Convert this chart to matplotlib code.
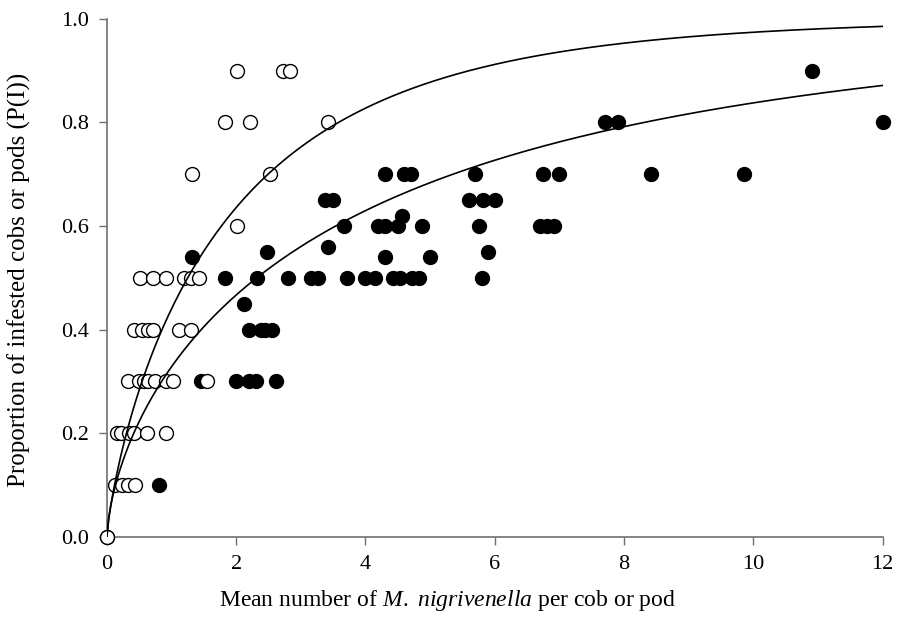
import numpy as np
import matplotlib
matplotlib.use("Agg")
import matplotlib.pyplot as plt

# open circles (one host)
open_x = [0.0,
          0.12, 0.23, 0.33, 0.43,
          0.15, 0.22, 0.35, 0.42, 0.62, 0.92,
          0.33, 0.5, 0.58, 0.64, 0.74, 0.92, 1.02, 1.55,
          0.42, 0.55, 0.63, 0.72, 1.12, 1.3,
          0.52, 0.72, 0.92, 1.2, 1.3, 1.42,
          2.02,
          1.32, 2.52,
          1.82, 2.22, 3.42,
          2.02, 2.72, 2.83]
open_y = [0.0,
          0.1, 0.1, 0.1, 0.1,
          0.2, 0.2, 0.2, 0.2, 0.2, 0.2,
          0.3, 0.3, 0.3, 0.3, 0.3, 0.3, 0.3, 0.3,
          0.4, 0.4, 0.4, 0.4, 0.4, 0.4,
          0.5, 0.5, 0.5, 0.5, 0.5, 0.5,
          0.6,
          0.7, 0.7,
          0.8, 0.8, 0.8,
          0.9, 0.9, 0.9]

# filled circles (other host)
fill_x = [0.0, 0.8,
          1.45, 2.0, 2.2, 2.3, 2.62,
          2.2, 2.38, 2.45, 2.55,
          2.12,
          1.82, 2.32, 2.8, 3.15, 3.27, 3.72, 4.0, 4.15, 4.42, 4.53, 4.72, 4.82, 5.8,
          1.32, 2.47, 3.42, 4.3, 5.0, 5.9,
          4.56,
          3.66, 4.2, 4.3, 4.51, 4.88, 5.75, 6.7, 6.8, 6.92,
          3.38, 3.5, 5.6, 5.81, 6.01,
          4.3, 4.6, 4.71, 5.7, 6.74, 7.0, 8.41, 9.85,
          7.7, 7.9, 12.0,
          10.9]
fill_y = [0.0, 0.1,
          0.3, 0.3, 0.3, 0.3, 0.3,
          0.4, 0.4, 0.4, 0.4,
          0.45,
          0.5, 0.5, 0.5, 0.5, 0.5, 0.5, 0.5, 0.5, 0.5, 0.5, 0.5, 0.5, 0.5,
          0.54, 0.55, 0.56, 0.54, 0.54, 0.55,
          0.62,
          0.6, 0.6, 0.6, 0.6, 0.6, 0.6, 0.6, 0.6, 0.6,
          0.65, 0.65, 0.65, 0.65, 0.65,
          0.7, 0.7, 0.7, 0.7, 0.7, 0.7, 0.7, 0.7,
          0.8, 0.8, 0.8,
          0.9]

# fitted curves P(I) = 1 - exp(-a * m^b)
upper_a, upper_b = 0.58, 0.80
lower_a, lower_b = 0.398, 0.66

plt.rcParams['font.family'] = 'Liberation Serif'
plt.rcParams['mathtext.fontset'] = 'custom'
plt.rcParams['mathtext.rm'] = 'Liberation Serif'
plt.rcParams['mathtext.it'] = 'Liberation Serif:italic'

fig = plt.figure(figsize=(8.98, 6.3), dpi=100)
ax = fig.add_axes([0.119, 0.148, 0.864, 0.822])

ax.scatter(fill_x, fill_y, s=100, c='black', edgecolors='black',
           linewidths=1, zorder=2, clip_on=False)
ax.scatter(open_x, open_y, s=100, c='white', edgecolors='black',
           linewidths=1, zorder=3, clip_on=False)

m = np.linspace(0, 12, 400)
ax.plot(m, 1 - np.exp(-upper_a * m ** upper_b), color='black', lw=1.2, zorder=4)
ax.plot(m, 1 - np.exp(-lower_a * m ** lower_b), color='black', lw=1.2, zorder=4)

ax.set_xlim(0, 12)
ax.set_ylim(0, 1.0)
ax.set_xticks(range(0, 13, 2))
ax.set_yticks(np.arange(0, 1.01, 0.2))
ax.set_yticklabels([f'{v:.1f}' for v in np.arange(0, 1.01, 0.2)])

for side in ['top', 'right']:
    ax.spines[side].set_visible(False)
for side in ['left', 'bottom']:
    ax.spines[side].set_color('#707070')
    ax.spines[side].set_linewidth(1.2)
ax.tick_params(direction='out', length=6, width=1, color='#707070',
               labelsize=16, pad=7)

fig.text(0.499, 0.047, 'Mean number of $\\mathit{M.}$ $\\mathit{nigrivenella}$ per cob or pod',
         fontsize=17, ha='center', va='center')
fig.text(0.022, 0.555, 'Proportion of infested cobs or pods (P(I))',
         fontsize=18, ha='center', va='center', rotation=90)

fig.savefig('out.png', dpi=100)
